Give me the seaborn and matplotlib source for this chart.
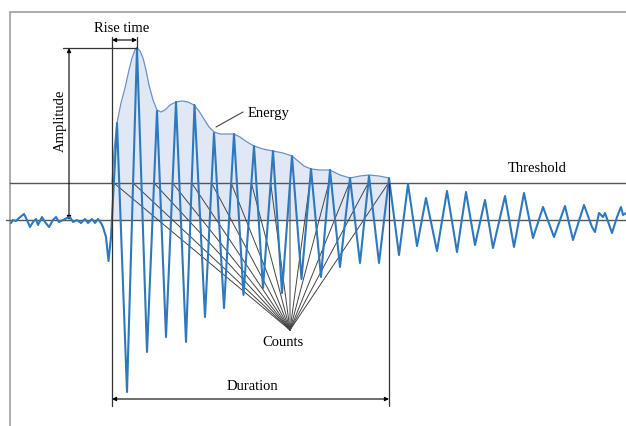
import matplotlib
matplotlib.use("Agg")
import matplotlib.pyplot as plt
import seaborn as sns
import numpy as np
import pandas as pd

# Waveform: time in microseconds, amplitude in mV
noise_t = [-50.5, -49.5, -48, -46.5, -44, -42.5, -41, -39.5, -38, -37, -35, -33.5,
           -31.5, -29.5, -28, -26.5, -24.5, -22.5, -21, -19.5, -17.5, -15.5, -13.5,
           -12, -10, -8.5, -7, -5.5, -4.5, -3, -1.75, -0.5]
noise_a = [-0.03, 0, -0.01, 0.02, 0.06, 0, -0.07, -0.02, 0.01, -0.05, 0.03, -0.02,
           -0.07, 0, 0.03, -0.02, 0, 0.02, 0.03, -0.02, 0, -0.03, 0.01,
           -0.03, 0.01, -0.03, 0.01, -0.03, -0.07, -0.17, -0.41, -0.17]

peak_t = [2.5, 12.5, 22.5, 32, 41.25, 51, 61, 71, 80.5, 90, 99.5, 109, 119, 128.5, 138.5]
peak_a = [0.97, 1.72, 1.09, 1.18, 1.15, 0.87, 0.86, 0.74, 0.69, 0.64, 0.51, 0.50, 0.42, 0.44, 0.42]
trough_t = [7.5, 17.5, 27, 37, 46.5, 56, 65.75, 75.5, 85, 94.75, 104.5, 114, 124, 133.5]
trough_a = [-1.72, -1.32, -1.17, -1.22, -0.97, -0.88, -0.75, -0.68, -0.73, -0.59, -0.57, -0.47, -0.43, -0.43]

tail_t = [143.5, 148, 152.5, 157, 162.5, 167.5, 172.5, 177, 181.5, 186.5, 190.5, 196.5,
          201, 206, 210.5, 215.5, 221, 226.5, 230.5, 236, 240, 241.5, 243.5, 245.5,
          246.5, 250, 252.5, 254.5, 255.5, 257]
tail_a = [-0.35, 0.36, -0.26, 0.22, -0.31, 0.29, -0.32, 0.28, -0.25, 0.20, -0.28, 0.24,
          -0.27, 0.27, -0.18, 0.13, -0.17, 0.14, -0.20, 0.15, -0.07, -0.12, 0.07, 0.03,
          0.07, -0.13, 0.03, 0.13, 0.05, 0.07]

# Energy envelope over the hit
env_t = [0, 1, 2.5, 4.5, 6.5, 8.5, 10, 11.5, 12.5, 14, 15.5, 17, 18.5, 20.5, 22.5, 24.5,
         26.5, 29, 32, 35, 38, 41, 43.5, 46, 48.5, 51, 54, 57.5, 61, 64, 67.5, 71, 75.5,
         80.5, 85.5, 90, 93, 96, 99.5, 104, 109, 114, 119, 124, 128.5, 133.5, 138.5]
env_a = [0.37, 0.70, 0.97, 1.17, 1.32, 1.50, 1.62, 1.70, 1.72, 1.69, 1.62, 1.50, 1.35, 1.20,
         1.10, 1.08, 1.10, 1.15, 1.18, 1.19, 1.18, 1.15, 1.09, 1.01, 0.93, 0.88, 0.86, 0.86,
         0.86, 0.83, 0.78, 0.74, 0.71, 0.69, 0.67, 0.64, 0.59, 0.54, 0.51, 0.50, 0.50, 0.45,
         0.42, 0.44, 0.45, 0.44, 0.42]

threshold = 0.37

# assemble burst: peaks and troughs alternate
burst_t, burst_a = [], []
for i in range(len(peak_t)):
    burst_t.append(peak_t[i]); burst_a.append(peak_a[i])
    if i < len(trough_t):
        burst_t.append(trough_t[i]); burst_a.append(trough_a[i])

wave = pd.DataFrame({"t": noise_t + burst_t + tail_t,
                     "a": noise_a + burst_a + tail_a})

sns.set_theme(style="white")
plt.rcParams["font.family"] = ["Liberation Serif", "DejaVu Serif"]

fig = plt.figure(figsize=(6.26, 4.26), dpi=100)
ax = fig.add_axes([0, 0, 1, 1])
ax.axis("off")

blue = "#2e78bd"
dark = "#333333"
t_start = env_t[0]
t_end = env_t[-1]
t_peak = peak_t[int(np.argmax(peak_a))]
a_peak = max(peak_a)

# frame (top and left edges)
ax.plot([-51, 257], [2.08, 2.08], color="#a0a0a0", lw=1.2)
ax.plot([-51, -51], [2.08, -2.06], color="#a0a0a0", lw=1.2)

# energy fill
ax.fill_between(env_t, 0, env_a, color="#dde6f4", alpha=0.9, lw=0, zorder=1)
ax.plot(env_t, env_a, color="#6b90c9", lw=0.9, zorder=2)

# threshold and baseline
ax.plot([-51, 257], [threshold, threshold], color="#555555", lw=1.0, zorder=3)
ax.plot([-53, 257], [0, 0], color="#555555", lw=1.0, zorder=3)

# count lines from convergence point to threshold crossings
conv = (89, -1.10)
wt = wave["t"].to_numpy(); wa = wave["a"].to_numpy()
cross = []
for i in range(len(wt) - 1):
    if wa[i] < threshold <= wa[i + 1] and t_start - 1 <= wt[i + 1] <= t_end + 0.5:
        cross.append(wt[i] + (threshold - wa[i]) / (wa[i + 1] - wa[i]) * (wt[i + 1] - wt[i]))
for c in cross:
    ax.plot([conv[0], c], [conv[1], threshold], color="#444444", lw=0.7, zorder=4)

# waveform
sns.lineplot(data=wave, x="t", y="a", sort=False, estimator=None, color=blue, lw=1.5, ax=ax, zorder=5)
ax.set_xlim(-56, 257)
ax.set_ylim(-2.06, 2.20)

# rise time / duration markers
ax.plot([t_start, t_start], [1.83, -1.86], color=dark, lw=0.9, zorder=6)
ax.plot([t_peak, t_peak], [1.83, a_peak], color=dark, lw=0.9, zorder=6)
ax.plot([t_end, t_end], [threshold, -1.86], color=dark, lw=0.9, zorder=6)
arrow = dict(arrowstyle="<|-|>", mutation_scale=6, lw=0.8, color="black", shrinkA=0, shrinkB=0)
ax.annotate("", xy=(t_start, 1.80), xytext=(t_peak, 1.80), arrowprops=arrow)
ax.annotate("", xy=(t_start, -1.79), xytext=(t_end, -1.79), arrowprops=arrow)

# amplitude marker
ax.plot([-24.5, t_peak], [a_peak, a_peak], color=dark, lw=0.9, zorder=6)
ax.annotate("", xy=(-21.5, a_peak), xytext=(-21.5, 0), arrowprops=arrow)

# energy leader
ax.plot([52, 65.5], [0.93, 1.08], color="#444444", lw=0.8)

fs = 10.5
ax.text(5, 1.92, "Rise time", fontsize=fs, ha="center", va="center", color="black")
ax.text(-26, 0.99, "Amplitude", fontsize=fs, ha="center", va="center", rotation=90, color="black")
ax.text(68, 1.06, "Energy", fontsize=fs, ha="left", va="center", color="black")
ax.text(212.5, 0.51, "Threshold", fontsize=fs, ha="center", va="center", color="black")
ax.text(85.5, -1.23, "Counts", fontsize=fs, ha="center", va="center", color="black")
ax.text(70, -1.66, "Duration", fontsize=fs, ha="center", va="center", color="black")

fig.savefig("out.png", dpi=100)
